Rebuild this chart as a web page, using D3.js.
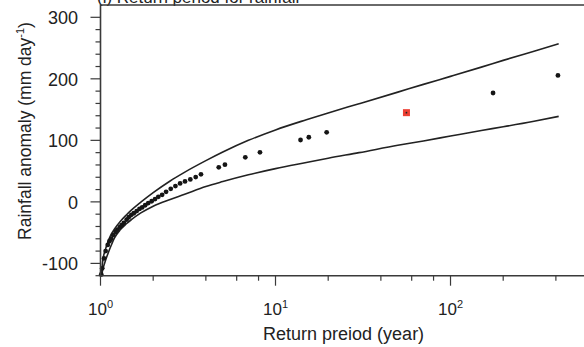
<!DOCTYPE html>
<html>
<head>
<meta charset="utf-8">
<script src="https://cdn.jsdelivr.net/npm/d3@7"></script>
<style>
    body { margin: 0; background: #fff; }
    svg { display: block; font-family: "Liberation Sans", Arial, sans-serif; }
</style>
</head>
<body>
<svg id="chart" width="584" height="347"></svg>
<script>
// return period (year) of each sample and its rainfall anomaly (mm/day)
const obsPeriod = [1.01, 1.023, 1.047, 1.07, 1.10, 1.125, 1.15, 1.18, 1.22, 1.25, 1.29, 1.32, 1.36, 1.41,
    1.45, 1.5, 1.55, 1.61, 1.67, 1.73, 1.8, 1.875, 1.96, 2.05, 2.14, 2.25, 2.37, 2.52, 2.68, 2.85,
    3.04, 3.26, 3.50, 3.75, 4.74, 5.14, 6.72, 8.15, 13.9, 15.5, 19.6, 175, 411];
const obsAnomaly = [-118, -108, -92, -80, -70, -64, -60, -54, -49, -45, -41, -38, -34, -29,
    -25, -21, -18.5, -15, -11.5, -9, -5.5, -2, 1, 4.5, 8.2, 11.5, 16.4, 21.2, 25.6, 30,
    33.3, 36.5, 40.3, 44.7, 56.1, 60.4, 72.4, 80.6, 100.6, 105, 113, 177, 205.6];

// highlighted event
const markPeriod = [56];
const markAnomaly = [145];

// confidence bounds of the fitted return level
const curvePeriod = [1.012, 1.03, 1.06, 1.1, 1.15, 1.2, 1.3, 1.4, 1.5, 1.7, 2, 2.5, 3, 4, 5, 7, 10,
    15, 20, 30, 50, 70, 100, 150, 200, 300, 415];
const upperLevel = [-120, -96, -80, -66, -53, -44.5, -31.5, -21.7, -13.5, -0.5, 15, 34, 47.6, 67, 81, 100, 117,
    133.5, 144.6, 159.5, 178.4, 191, 204, 219, 230, 245, 257];
const lowerLevel = [-121, -110, -98, -85, -71, -59, -45, -36, -29, -18, -7, 4, 12, 25, 33, 44, 54,
    64, 71, 80, 92, 99, 107, 116, 122, 131, 139];

const yMajor = [-100, 0, 100, 200, 300];
const xMajor = [1, 10, 100];
const xMinor = [2, 4, 6, 8, 20, 40, 60, 80, 200, 400];

const svg = d3.select('#chart');
const plotLeft = 100.5, plotRight = 586.7, plotTop = 5, plotBottom = 275.7;

const x = d3.scaleLog().domain([1, 600]).range([plotLeft, plotRight]);
const y = d3.scaleLinear().domain([-120, 320]).range([plotBottom, plotTop]);

// title, mostly cut off by the top edge as in the figure
svg.append('text')
    .attr('x', 97)
    .attr('y', 3)
    .attr('font-size', 17)
    .attr('fill', '#222')
    .text('(i) Return period for rainfall');

const plot = svg.append('g');

// bounds
const line = d3.line()
    .x(d => x(d[0]))
    .y(d => y(d[1]))
    .curve(d3.curveMonotoneX);

[upperLevel, lowerLevel].forEach(level => {
    plot.append('path')
        .datum(curvePeriod.map((p, i) => [p, level[i]]))
        .attr('d', line)
        .attr('fill', 'none')
        .attr('stroke', '#222')
        .attr('stroke-width', 1.6);
});

// samples
plot.selectAll('.obs')
    .data(obsPeriod.map((p, i) => [p, obsAnomaly[i]]))
    .enter()
    .append('circle')
    .attr('class', 'obs')
    .attr('cx', d => x(d[0]))
    .attr('cy', d => y(d[1]))
    .attr('r', 2.4)
    .attr('fill', '#151515');

const marks = markPeriod.map((p, i) => [p, markAnomaly[i]]);
plot.selectAll('.mark')
    .data(marks)
    .enter()
    .append('rect')
    .attr('class', 'mark')
    .attr('x', d => x(d[0]) - 3.5)
    .attr('y', d => y(d[1]) - 3.5)
    .attr('width', 7)
    .attr('height', 7)
    .attr('fill', '#ec3f33');
plot.selectAll('.markdot')
    .data(marks)
    .enter()
    .append('circle')
    .attr('cx', d => x(d[0]))
    .attr('cy', d => y(d[1]))
    .attr('r', 0.9)
    .attr('fill', '#222');

// frame
const axisColor = '#3a3a3a';
svg.append('path')
    .attr('d', `M${plotRight},${plotTop}H${plotLeft}V${plotBottom}H${plotRight}`)
    .attr('fill', 'none')
    .attr('stroke', axisColor)
    .attr('stroke-width', 1.6);

// y ticks
const yMinor = d3.range(-120, 301, 20).filter(v => !yMajor.includes(v));
svg.selectAll('.ymin')
    .data(yMinor)
    .enter()
    .append('line')
    .attr('x1', plotLeft - 5).attr('x2', plotLeft)
    .attr('y1', d => y(d)).attr('y2', d => y(d))
    .attr('stroke', axisColor).attr('stroke-width', 1.2);
svg.selectAll('.ymaj')
    .data(yMajor)
    .enter()
    .append('line')
    .attr('x1', plotLeft - 10).attr('x2', plotLeft)
    .attr('y1', d => y(d)).attr('y2', d => y(d))
    .attr('stroke', axisColor).attr('stroke-width', 1.2);
svg.selectAll('.ylab')
    .data(yMajor)
    .enter()
    .append('text')
    .attr('x', 78)
    .attr('y', d => y(d) + 7)
    .attr('text-anchor', 'end')
    .attr('font-size', 18)
    .attr('fill', '#222')
    .text(d => d);

// x ticks
svg.selectAll('.xmin')
    .data(xMinor)
    .enter()
    .append('line')
    .attr('x1', d => x(d)).attr('x2', d => x(d))
    .attr('y1', plotBottom).attr('y2', plotBottom + 5)
    .attr('stroke', axisColor).attr('stroke-width', 1.2);
svg.selectAll('.xmaj')
    .data(xMajor)
    .enter()
    .append('line')
    .attr('x1', d => x(d)).attr('x2', d => x(d))
    .attr('y1', plotBottom).attr('y2', plotBottom + 10)
    .attr('stroke', axisColor).attr('stroke-width', 1.2);

const xLab = svg.selectAll('.xlab')
    .data(xMajor)
    .enter()
    .append('text')
    .attr('x', d => x(d))
    .attr('y', 315)
    .attr('text-anchor', 'middle')
    .attr('font-size', 17)
    .attr('fill', '#222');
xLab.append('tspan').text('10');
xLab.append('tspan')
    .attr('dy', -7)
    .attr('font-size', 11)
    .text(d => Math.round(Math.log10(d)));

// axis titles
svg.append('text')
    .attr('x', (plotLeft + plotRight) / 2)
    .attr('y', 340)
    .attr('text-anchor', 'middle')
    .attr('font-size', 18)
    .attr('fill', '#222')
    .text('Return preiod (year)');

const yTitle = svg.append('text')
    .attr('transform', 'translate(31,131) rotate(-90)')
    .attr('text-anchor', 'middle')
    .attr('font-size', 17.5)
    .attr('fill', '#222');
yTitle.append('tspan').text('Rainfall anomaly (mm day');
yTitle.append('tspan').attr('dy', -7).attr('font-size', 11).text('-1');
yTitle.append('tspan').attr('dy', 7).text(')');
</script>
</body>
</html>
